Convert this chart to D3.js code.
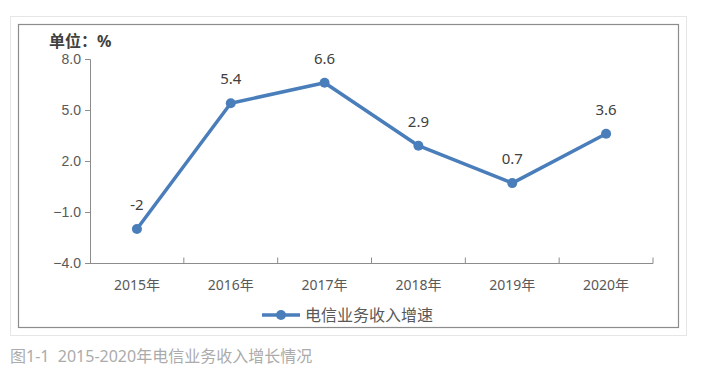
<!DOCTYPE html>
<html><head><meta charset="utf-8">
<script src="https://cdn.jsdelivr.net/npm/d3@7"></script>
<style>
html,body{margin:0;padding:0;background:#fff;}
svg{display:block;font-family:"Noto Sans","Noto Sans CJK SC",sans-serif;}
</style></head>
<body>
<svg id="c" width="709" height="383"></svg>
<script>
const categories = ["2015年","2016年","2017年","2018年","2019年","2020年"];
const values = [-2, 5.4, 6.6, 2.9, 0.7, 3.6];
const valueLabels = ["-2","5.4","6.6","2.9","0.7","3.6"];
const yTicks = [-4, -1, 2, 5, 8];
const seriesName = "电信业务收入增速";
const unitLabel = "单位：%";
const caption = "图1-1  2015-2020年电信业务收入增长情况";

const svg = d3.select("#c");
const color = "#4a7ebb";
const textColor = "#595959";

// frames
svg.append("rect").attr("x",10.5).attr("y",16.5).attr("width",676).attr("height",319)
  .attr("fill","#fff").attr("stroke","#e6e6e6").attr("stroke-width",1);
svg.append("rect").attr("x",18.5).attr("y",24.5).attr("width",660).attr("height",303)
  .attr("fill","#fff").attr("stroke","#8c8c8c").attr("stroke-width",1.2);

const x = d3.scaleBand().domain(categories).range([90,653]);
const y = d3.scaleLinear().domain([-4,8]).range([263,59]);

// y axis
const yAxis = d3.axisLeft(y).tickValues(yTicks).tickFormat(d3.format(".1f")).tickSize(5).tickPadding(4);
const gy = svg.append("g").attr("transform","translate(90,0)").call(yAxis);
gy.select(".domain").attr("stroke","#8c8c8c");
gy.selectAll(".tick line").attr("stroke","#8c8c8c");
gy.selectAll(".tick text").attr("fill",textColor).attr("font-size",14);

// x axis (ticks inward at band boundaries)
const gx = svg.append("g").attr("transform","translate(0,263.5)");
gx.append("line").attr("x1",90).attr("x2",653).attr("stroke","#8c8c8c");
const bounds = categories.map(c=>x(c)).concat([x.range()[1]]);
gx.selectAll("line.tk").data(bounds.slice(1)).join("line").attr("class","tk")
  .attr("x1",d=>d).attr("x2",d=>d).attr("y1",0).attr("y2",-6).attr("stroke","#8c8c8c");
gx.selectAll("text").data(categories).join("text")
  .attr("x",d=>x(d)+x.bandwidth()/2).attr("y",26)
  .attr("text-anchor","middle").attr("fill",textColor).attr("font-size",14).text(d=>d);

// unit label
svg.append("text").attr("x",49).attr("y",47).attr("font-size",16).attr("font-weight","bold")
  .attr("fill","#404040").text(unitLabel);

// line
const pts = categories.map((c,i)=>({c, v:values[i], l:valueLabels[i]}));
const line = d3.line().x(d=>x(d.c)+x.bandwidth()/2).y(d=>y(d.v));
svg.append("path").datum(pts).attr("d",line).attr("fill","none")
  .attr("stroke",color).attr("stroke-width",3.5).attr("stroke-linejoin","round");
svg.selectAll("circle.pt").data(pts).join("circle").attr("class","pt")
  .attr("cx",d=>x(d.c)+x.bandwidth()/2).attr("cy",d=>y(d.v)).attr("r",5).attr("fill",color);
svg.selectAll("text.lbl").data(pts).join("text").attr("class","lbl")
  .attr("x",d=>x(d.c)+x.bandwidth()/2).attr("y",d=>y(d.v)-19)
  .attr("text-anchor","middle").attr("fill","#404040").attr("font-size",15).text(d=>d.l);

// legend
const lg = svg.append("g").attr("transform","translate(262,315)");
lg.append("line").attr("x1",0).attr("x2",38).attr("stroke",color).attr("stroke-width",3.5);
lg.append("circle").attr("cx",19).attr("cy",0).attr("r",5).attr("fill",color);
lg.append("text").attr("x",43).attr("y",5.5).attr("font-size",16).attr("fill",textColor).text(seriesName);

// caption
svg.append("text").attr("x",10).attr("y",362).attr("font-size",16).attr("fill","#ababab")
  .style("white-space","pre").text(caption);
</script>
</body></html>
